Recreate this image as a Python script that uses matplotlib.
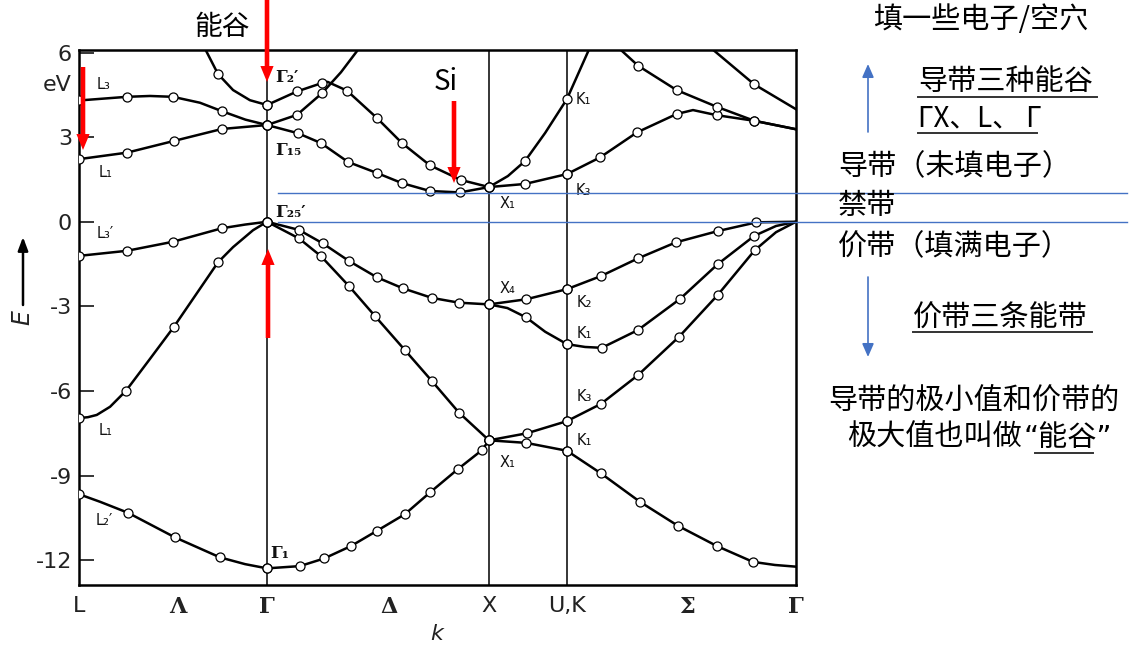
import matplotlib
matplotlib.use('Agg')
import matplotlib.pyplot as plt
from matplotlib.patches import FancyArrowPatch
from matplotlib.lines import Line2D

W, H = 1140, 645

# k positions of the path points (L, Λ, Γ, Δ, X, U/K, Σ, Γ)
k_ticks = [0.0, 0.446, 0.847, 1.396, 1.847, 2.198, 2.739, 3.230]
k_labels = ['L', 'Λ', 'Γ', 'Δ', 'X', 'U,K', 'Σ', 'Γ']
k_lines = [0.847, 1.847, 2.198]

e_ticks = [6, 3, 0, -3, -6, -9, -12]
e_labels = ['6', '3', '0', '-3', '-6', '-9', '-12']

# bands: (k, E in eV, 1 = open circle)
# conduction bands
cond_L3 = [(0.000, 4.30, 1), (0.216, 4.43, 1), (0.320, 4.46, 0), (0.423, 4.43, 1),
           (0.545, 4.22, 0), (0.644, 3.92, 1), (0.750, 3.62, 0), (0.847, 3.43, 1)]
cond_L1 = [(0.000, 2.22, 1), (0.216, 2.45, 1), (0.430, 2.87, 1), (0.644, 3.29, 1),
           (0.847, 3.43, 1)]
cond_G2_left = [(0.570, 6.10, 0), (0.626, 5.24, 1), (0.694, 4.67, 0), (0.770, 4.31, 0),
                (0.847, 4.14, 1)]
cond_D2 = [(0.847, 4.14, 1), (0.982, 4.62, 1), (1.095, 4.92, 1), (1.120, 4.96, 0),
           (1.207, 4.65, 1), (1.342, 3.68, 1), (1.455, 2.79, 1), (1.581, 2.00, 1),
           (1.721, 1.48, 1), (1.847, 1.23, 1)]
cond_D5 = [(0.847, 3.43, 1), (0.982, 3.79, 1), (1.095, 4.56, 1), (1.180, 5.30, 0),
           (1.257, 6.10, 0)]
cond_D1 = [(0.847, 3.43, 1), (0.986, 3.14, 1), (1.090, 2.79, 1), (1.212, 2.12, 1),
           (1.342, 1.73, 1), (1.455, 1.37, 1), (1.581, 1.09, 1), (1.716, 1.04, 1),
           (1.847, 1.23, 1)]
cond_XK1 = [(1.847, 1.23, 1), (1.932, 1.62, 0), (2.009, 2.15, 1), (2.100, 3.15, 0),
            (2.198, 4.35, 1), (2.297, 6.10, 0)]
cond_XK3 = [(1.847, 1.23, 1), (2.009, 1.34, 1), (2.198, 1.69, 1)]
cond_S_b = [(2.198, 1.69, 1), (2.347, 2.28, 1), (2.514, 3.17, 1), (2.692, 3.82, 1),
            (2.766, 3.96, 0), (2.872, 3.78, 1), (3.042, 3.58, 1), (3.230, 3.28, 0)]
cond_S_a = [(2.440, 6.10, 0), (2.519, 5.53, 1), (2.692, 4.67, 1), (2.872, 4.08, 1),
            (3.042, 3.58, 1), (3.230, 3.28, 0)]
cond_S_c = [(2.856, 6.10, 0), (3.042, 4.87, 1), (3.230, 3.99, 0)]

# valence bands
val_L3p = [(0.000, -1.21, 1), (0.216, -1.03, 1), (0.423, -0.71, 1), (0.644, -0.23, 1),
           (0.748, -0.10, 0), (0.847, 0.00, 1)]
val_L1 = [(0.000, -6.96, 1), (0.040, -6.93, 0), (0.080, -6.85, 0), (0.140, -6.56, 0),
          (0.212, -5.99, 1), (0.320, -4.86, 0), (0.428, -3.72, 1), (0.527, -2.58, 0),
          (0.626, -1.44, 1), (0.694, -0.90, 0), (0.784, -0.30, 0), (0.847, 0.00, 1)]
val_L2p = [(0.000, -9.66, 1), (0.095, -9.93, 0), (0.221, -10.32, 1), (0.432, -11.19, 1),
           (0.635, -11.90, 1), (0.748, -12.14, 0), (0.847, -12.29, 1)]
val_D_low = [(0.847, -12.29, 1), (0.995, -12.21, 1), (1.104, -11.94, 1), (1.225, -11.50, 1),
             (1.342, -10.96, 1), (1.468, -10.37, 1), (1.581, -9.60, 1), (1.707, -8.77, 1),
             (1.815, -8.10, 1), (1.847, -7.75, 1)]
val_D_steep = [(0.847, 0.00, 1), (0.991, -0.59, 1), (1.090, -1.22, 1), (1.216, -2.28, 1),
               (1.333, -3.34, 1), (1.468, -4.55, 1), (1.590, -5.65, 1), (1.712, -6.77, 1),
               (1.847, -7.75, 1)]
val_D_top = [(0.847, 0.00, 1), (0.991, -0.29, 1), (1.099, -0.77, 1), (1.216, -1.39, 1),
             (1.342, -1.97, 1), (1.459, -2.36, 1), (1.590, -2.70, 1), (1.712, -2.87, 1),
             (1.847, -2.93, 1)]
val_XK2 = [(1.847, -2.93, 1), (2.014, -2.75, 1), (2.198, -2.39, 1)]
val_XK1m = [(1.847, -2.93, 1), (1.930, -3.06, 0), (2.014, -3.39, 1), (2.100, -3.90, 0),
            (2.198, -4.34, 1)]
val_XK3 = [(1.847, -7.75, 1), (2.018, -7.50, 1), (2.198, -7.07, 1)]
val_XK1l = [(1.847, -7.75, 1), (2.014, -7.84, 1), (2.198, -8.12, 1)]
val_S_K2 = [(2.198, -2.39, 1), (2.350, -1.93, 1), (2.518, -1.30, 1), (2.689, -0.73, 1),
            (2.878, -0.33, 1), (3.052, -0.02, 1), (3.230, 0.00, 0)]
val_S_K1 = [(2.198, -4.34, 1), (2.280, -4.44, 0), (2.355, -4.47, 1), (2.518, -3.84, 1),
            (2.707, -2.74, 1), (2.878, -1.50, 1), (3.042, -0.50, 1), (3.140, -0.15, 0),
            (3.230, 0.00, 0)]
val_S_K3 = [(2.198, -7.07, 1), (2.351, -6.46, 1), (2.518, -5.44, 1), (2.703, -4.08, 1),
            (2.877, -2.60, 1), (3.044, -1.01, 1), (3.140, -0.37, 0), (3.230, 0.00, 0)]
val_S_low = [(2.198, -8.12, 1), (2.351, -8.92, 1), (2.527, -9.93, 1), (2.698, -10.78, 1),
             (2.874, -11.50, 1), (3.036, -12.06, 1), (3.135, -12.17, 0), (3.230, -12.23, 0)]

bands = [cond_L3, cond_L1, cond_G2_left, cond_D2, cond_D5, cond_D1, cond_XK1, cond_XK3,
         cond_S_b, cond_S_a, cond_S_c, val_L3p, val_L1, val_L2p, val_D_low, val_D_steep,
         val_D_top, val_XK2, val_XK1m, val_XK3, val_XK1l, val_S_K2, val_S_K1, val_S_K3,
         val_S_low]

# symmetry labels next to the curves
sym_text = ['L₃', 'L₁', 'L₃′', 'L₁', 'L₂′', 'Γ₂′', 'Γ₁₅', 'Γ₂₅′', 'Γ₁',
            'X₁', 'X₄', 'X₁', 'K₁', 'K₃', 'K₂', 'K₁', 'K₃', 'K₁']
sym_k = [0.08, 0.09, 0.08, 0.09, 0.077, 0.883, 0.883, 0.883, 0.862,
         1.896, 1.896, 1.896, 2.239, 2.239, 2.243, 2.243, 2.243, 2.243]
sym_e = [4.85, 1.73, -0.40, -7.39, -10.58, 5.10, 2.54, 0.34, -11.75,
         0.66, -2.35, -8.52, 4.32, 1.12, -2.85, -3.95, -6.18, -7.74]

gap_levels = [1.02, 0.0]

fig = plt.figure(figsize=(W / 100, H / 100), dpi=100)
ax = fig.add_axes([79 / W, 1 - 585 / H, 717 / W, 535 / H])

def fx(x):
    return x / W

def fy(y):
    return 1 - y / H

for band in bands:
    ax.plot([p[0] for p in band], [p[1] for p in band], color='black', lw=1.8,
            solid_joinstyle='round', zorder=3)
    mk = [p for p in band if p[2]]
    ax.plot([p[0] for p in mk], [p[1] for p in mk], 'o', ms=6.5, mfc='white',
            mec='black', mew=0.9, zorder=4)

for k in k_lines:
    ax.axvline(k, color='black', lw=1.1, zorder=2)

ax.set_xlim(0, 3.23)
ax.set_ylim(-12.88, 6.09)
for s in ax.spines.values():
    s.set_linewidth(1.8)

ax.set_yticks(e_ticks)
ax.set_yticklabels(e_labels, fontsize=16, color='#222222')
ax.tick_params(axis='y', direction='in', length=11, width=1.1, pad=5)
ax.set_xticks(k_ticks)
ax.set_xticklabels(k_labels, fontsize=16, color='#222222')
ax.tick_params(axis='x', length=0, pad=8)
for lbl in ax.get_xticklabels():
    if lbl.get_text() in ['Λ', 'Γ', 'Δ', 'Σ']:
        lbl.set_family('DejaVu Serif')
        lbl.set_fontweight('bold')

for t, k, e in zip(sym_text, sym_k, sym_e):
    if t.startswith('Γ'):
        ax.text(k, e, t, fontsize=12, family='DejaVu Serif', fontweight='bold',
                ha='left', va='center', color='#111111')
    else:
        ax.text(k, e, t, fontsize=10.5, ha='left', va='center', color='#111111')

# gap lines
for lev in gap_levels:
    ax.plot([0.896, 4.72], [lev, lev], color='#4472C4', lw=1.0, clip_on=False, zorder=5)

# axis annotations
fig.text(fx(72), fy(85), 'eV', fontsize=16, ha='right', va='center', color='#222222')
fig.text(fx(437), fy(634), 'k', fontsize=16, style='italic', ha='center', va='center',
         color='#222222')
fig.text(fx(22), fy(318), 'E', fontsize=17, style='italic', rotation=90,
         ha='center', va='center', color='#222222')

def arrow_px(x0, y0, x1, y1, **kw):
    fig.add_artist(FancyArrowPatch((fx(x0), fy(y0)), (fx(x1), fy(y1)),
                                   transform=fig.transFigure, shrinkA=0, shrinkB=0, **kw))

def uline(x0, x1, y, color='#333333'):
    fig.add_artist(Line2D([fx(x0), fx(x1)], [fy(y), fy(y)], transform=fig.transFigure,
                          color=color, lw=1.4))

arrow_px(23, 305, 23, 237, arrowstyle='-|>,head_length=0.8,head_width=0.3',
         mutation_scale=10, color='black', lw=1.8)

red = dict(arrowstyle='simple,head_length=1.15,head_width=0.95,tail_width=0.33',
           mutation_scale=10, color='#ff0000', lw=0)
arrow_px(267, 0, 267, 82, **red)
arrow_px(83, 67, 83, 150, **red)
arrow_px(268, 338, 268, 249, **red)
arrow_px(454, 101, 454, 183, **red)

blue = dict(arrowstyle='-|>,head_length=0.8,head_width=0.35', mutation_scale=10,
            color='#4472C4', lw=1.2)
arrow_px(868, 132, 868, 64, **blue)
arrow_px(868, 277, 868, 357, **blue)

cjk = ['Noto Sans CJK SC', 'DejaVu Sans']
quote_first = ['DejaVu Sans', 'Noto Sans CJK SC']
fig.text(fx(222), fy(27), '能谷', fontsize=20, family=cjk, ha='center', va='center')
fig.text(fx(446), fy(82), 'Si', fontsize=20, family=cjk, ha='center', va='center')

fig.text(fx(873), fy(20), '填一些电子/空穴', fontsize=21, family=cjk, ha='left', va='center')
fig.text(fx(918), fy(82), '导带三种能谷', fontsize=21, family=cjk, ha='left', va='center')
uline(918, 1097, 97)
fig.text(fx(918), fy(118), 'ΓX、L、 Γ', fontsize=20, family=cjk, ha='left', va='center')
uline(918, 1037, 133)
fig.text(fx(838), fy(167), '导带（未填电子）', fontsize=21, family=cjk, ha='left', va='center')
fig.text(fx(838), fy(206), '禁带', fontsize=21, family=cjk, ha='left', va='center')
fig.text(fx(838), fy(247), '价带（填满电子）', fontsize=21, family=cjk, ha='left', va='center')
fig.text(fx(913), fy(319), '价带三条能带', fontsize=21, family=cjk, ha='left', va='center')
uline(913, 1092, 332)
fig.text(fx(828), fy(402), '导带的极小值和价带的', fontsize=21, family=cjk, ha='left', va='center')
fig.text(fx(847), fy(438), '极大值也叫做', fontsize=21, family=cjk, ha='left', va='center')
fig.text(fx(1024), fy(438), '“能谷”', fontsize=21, family=quote_first, ha='left',
         va='center')
uline(1035, 1093, 453)

fig.savefig('out.png', dpi=100)
